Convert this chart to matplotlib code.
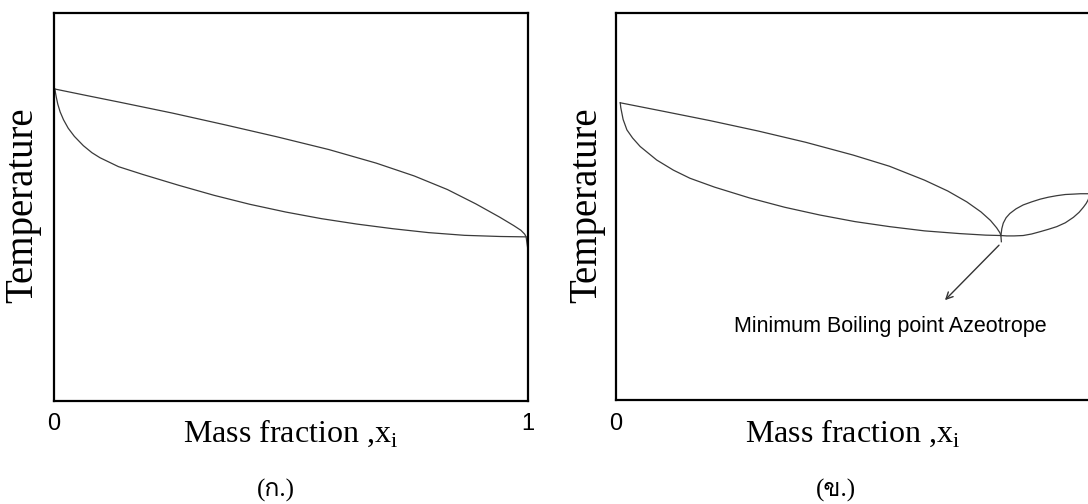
import matplotlib
matplotlib.use('Agg')
import matplotlib.pyplot as plt
from matplotlib import font_manager
from matplotlib.ft2font import FT2Font

# ---- data (x = mass fraction, t = relative temperature) ----
# (ก.) ideal mixture
left_dew_x = [0.002, 0.07, 0.139, 0.25, 0.36, 0.47, 0.58, 0.68, 0.76, 0.83, 0.89, 0.94, 0.97, 0.985, 0.993, 0.996, 0.999]
left_dew_t = [0.804, 0.787, 0.770, 0.742, 0.712, 0.681, 0.648, 0.613, 0.580, 0.545, 0.508, 0.474, 0.452, 0.440, 0.430, 0.423, 0.397]
left_bub_x = [0.002, 0.003, 0.005, 0.008, 0.013, 0.020, 0.030, 0.043, 0.062, 0.080, 0.097, 0.136, 0.187, 0.263, 0.338,
              0.413, 0.489, 0.564, 0.639, 0.715, 0.790, 0.866, 0.941, 0.996]
left_bub_t = [0.804, 0.795, 0.782, 0.765, 0.745, 0.725, 0.703, 0.682, 0.658, 0.640, 0.627, 0.604, 0.584, 0.556, 0.530,
              0.507, 0.487, 0.470, 0.456, 0.444, 0.434, 0.427, 0.424, 0.423]

# (ข.) minimum boiling point azeotrope
right_dew_x = [0.009, 0.10, 0.198, 0.30, 0.40, 0.50, 0.577, 0.651, 0.70, 0.74, 0.77, 0.79, 0.803, 0.81, 0.812, 0.813]
right_dew_t = [0.768, 0.746, 0.722, 0.695, 0.666, 0.633, 0.604, 0.568, 0.540, 0.512, 0.486, 0.464, 0.445, 0.432, 0.425, 0.409]
right_bub_x = [0.009, 0.010, 0.015, 0.023, 0.035, 0.051, 0.086, 0.121, 0.156, 0.208, 0.282, 0.356, 0.430,
               0.504, 0.577, 0.651, 0.725, 0.78, 0.812]
right_bub_t = [0.768, 0.756, 0.725, 0.698, 0.677, 0.655, 0.620, 0.594, 0.573, 0.550, 0.522, 0.498, 0.478,
               0.461, 0.448, 0.437, 0.430, 0.426, 0.425]
loop_up_x = [0.812, 0.814, 0.817, 0.823, 0.831, 0.844, 0.859, 0.877, 0.895, 0.912, 0.930, 0.948, 0.965, 0.98, 0.996, 1.0]
loop_up_t = [0.425, 0.443, 0.457, 0.471, 0.482, 0.494, 0.504, 0.512, 0.519, 0.524, 0.528, 0.531, 0.532, 0.533, 0.533, 0.530]
loop_lo_x = [0.812, 0.824, 0.840, 0.859, 0.877, 0.895, 0.912, 0.930, 0.948, 0.965, 0.977, 0.986, 0.992, 0.996, 1.0]
loop_lo_t = [0.425, 0.424, 0.424, 0.425, 0.429, 0.435, 0.441, 0.448, 0.458, 0.472, 0.485, 0.498, 0.508, 0.517, 0.530]

azeo_point = (0.808, 0.400)
azeo_text_pos = (0.694, 0.258)
azeo_label = 'Minimum Boiling point Azeotrope'

tick_pos = [0, 1]
tick_labels = ['0', '1']
xlabel = 'Mass fraction ,x$_{\\mathregular{i}}$'
ylabel = 'Temperature'
panel_labels = ['(ก.)', '(ข.)']


def thai_family():
    # find any installed font that really has Thai glyphs
    for f in font_manager.fontManager.ttflist:
        try:
            if FT2Font(f.fname).get_char_index(ord('ก')) != 0:
                return f.name
        except Exception:
            pass
    return 'DejaVu Serif'


W, H = 1088, 504
fig = plt.figure(figsize=(W / 100, H / 100), dpi=100)
plt.rcParams['mathtext.fontset'] = 'custom'
plt.rcParams['mathtext.rm'] = 'Liberation Serif'

serif = 'Liberation Serif'
sans = 'Liberation Sans'
line_col = '#3a3a3a'


def px(x, y):
    return x / W, 1 - y / H


def make_axes(left, top, bottom, width):
    ax = fig.add_axes([left / W, 1 - bottom / H, width / W, (bottom - top) / H])
    ax.set_xlim(0, 1)
    ax.set_ylim(0, 1)
    ax.set_yticks([])
    ax.set_xticks(tick_pos)
    ax.set_xticklabels(tick_labels, fontfamily=sans, fontsize=17)
    ax.tick_params(axis='x', length=0, pad=9)
    for s in ax.spines.values():
        s.set_linewidth(1.6)
        s.set_color('black')
    return ax


ax1 = make_axes(54, 13, 401, 474)
ax1.plot(left_dew_x, left_dew_t, color=line_col, lw=0.9)
ax1.plot(left_bub_x, left_bub_t, color=line_col, lw=0.9)

ax2 = make_axes(616, 13, 400, 474)
ax2.set_xticks([0])
ax2.set_xticklabels(['0'], fontfamily=sans, fontsize=17)
ax2.plot(right_dew_x, right_dew_t, color=line_col, lw=0.9)
ax2.plot(right_bub_x, right_bub_t, color=line_col, lw=0.9)
ax2.plot(loop_up_x, loop_up_t, color=line_col, lw=0.9, clip_on=False)
ax2.plot(loop_lo_x, loop_lo_t, color=line_col, lw=0.9, clip_on=False)
ax2.annotate('', xy=azeo_text_pos, xytext=azeo_point,
             arrowprops=dict(arrowstyle='->', color='#333333', lw=1.0,
                             shrinkA=0, shrinkB=0, mutation_scale=12))
ax2.text(0.578, 0.191, azeo_label, fontfamily=sans, fontsize=15.5,
         ha='center', va='center')

# axis titles
for cx, ty in [(291, 433), (853, 433)]:
    fig.text(*px(cx, ty), xlabel, fontfamily=serif, fontsize=23, ha='center', va='center')
for cx in [23, 587]:
    fig.text(*px(cx, 205), ylabel, fontfamily=serif, fontsize=28, rotation=90,
             ha='center', va='center')

tf = thai_family()
for cx, lab in zip([276, 836], panel_labels):
    fig.text(*px(cx, 490), lab, fontfamily=[serif, tf], fontsize=18, ha='center', va='center')

fig.savefig('out.png', dpi=100, facecolor='white')
